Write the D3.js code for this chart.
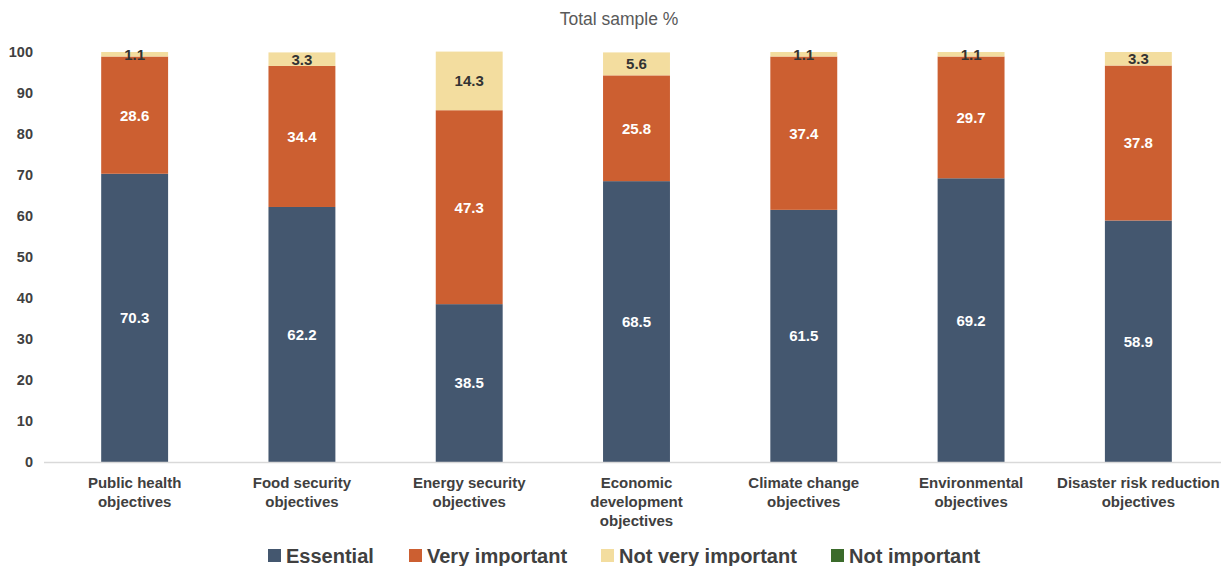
<!DOCTYPE html>
<html>
<head>
<meta charset="utf-8">
<script src="https://cdn.jsdelivr.net/npm/d3@7"></script>
<style>
  html, body { margin: 0; padding: 0; background: #fff; }
  svg { display: block; font-family: "Liberation Sans", Arial, sans-serif; }
</style>
</head>
<body>
<svg id="chart" width="1229" height="566"></svg>
<script>
// Survey responses, share of total sample (%)
const categories = [
  ["Public health", "objectives"],
  ["Food security", "objectives"],
  ["Energy security", "objectives"],
  ["Economic", "development", "objectives"],
  ["Climate change", "objectives"],
  ["Environmental", "objectives"],
  ["Disaster risk reduction", "objectives"]
];
const seriesNames = ["Essential", "Very important", "Not very important", "Not important"];
const essential        = [70.3, 62.2, 38.5, 68.5, 61.5, 69.2, 58.9];
const veryImportant    = [28.6, 34.4, 47.3, 25.8, 37.4, 29.7, 37.8];
const notVeryImportant = [1.1, 3.3, 14.3, 5.6, 1.1, 1.1, 3.3];
const notImportant     = [0, 0, 0, 0, 0, 0, 0];
const yTicks = [0, 10, 20, 30, 40, 50, 60, 70, 80, 90, 100];
const colors = ["#44576f", "#cc5f31", "#f3dd9f", "#3b6b2b"];
const labelColors = ["#ffffff", "#ffffff", "#333333", "#ffffff"];

const seriesValues = [essential, veryImportant, notVeryImportant, notImportant];
const rows = categories.map((c, i) => {
  const r = { key: i };
  seriesNames.forEach((s, j) => { r[s] = seriesValues[j][i]; });
  return r;
});
const stacked = d3.stack().keys(seriesNames)(rows);

const svg = d3.select("#chart");
const margin = { left: 51, right: 7, top: 52, bottom: 104 };
const W = 1229, H = 566;

const x = d3.scaleBand()
  .domain(rows.map(r => r.key))
  .range([margin.left, W - margin.right])
  .paddingInner(0.6)
  .paddingOuter(0.3);

const y = d3.scaleLinear().domain([0, 100]).range([H - margin.bottom, margin.top]);

// Title
svg.append("text")
  .attr("x", 619).attr("y", 25)
  .attr("text-anchor", "middle")
  .attr("font-size", 17.5)
  .attr("fill", "#595959")
  .text("Total sample %");

// Y axis labels (no line)
const yAxis = svg.append("g")
  .attr("transform", `translate(${33},0)`)
  .call(d3.axisLeft(y).tickValues(yTicks).tickSize(0).tickPadding(0));
yAxis.select(".domain").remove();
yAxis.selectAll("text")
  .attr("font-size", 14.5).attr("font-weight", "bold").attr("fill", "#404040")
  .attr("font-family", "Liberation Sans, Arial, sans-serif");

// Bars
const layers = svg.append("g").selectAll("g").data(stacked).join("g")
  .attr("fill", (d, i) => colors[i]);
layers.selectAll("rect").data(d => d).join("rect")
  .attr("x", d => x(d.data.key))
  .attr("width", x.bandwidth())
  .attr("y", d => y(d[1]))
  .attr("height", d => y(d[0]) - y(d[1]));

// Baseline
svg.append("line")
  .attr("x1", 44).attr("x2", 1221)
  .attr("y1", y(0) + 0.5).attr("y2", y(0) + 0.5)
  .attr("stroke", "#d9d9d9").attr("stroke-width", 1.5);

// Segment value labels
stacked.forEach((layer, i) => {
  svg.append("g").selectAll("text")
    .data(layer.filter(d => d[1] - d[0] > 0))
    .join("text")
    .attr("x", d => x(d.data.key) + x.bandwidth() / 2)
    .attr("y", d => y((d[0] + d[1]) / 2))
    .attr("dy", "0.36em")
    .attr("text-anchor", "middle")
    .attr("font-size", 15)
    .attr("font-weight", "bold")
    .attr("fill", labelColors[i])
    .text(d => d3.format(".1f")(d[1] - d[0]));
});

// Category labels
const xAxis = svg.append("g");
categories.forEach((lines, i) => {
  const t = xAxis.append("text")
    .attr("x", x(i) + x.bandwidth() / 2)
    .attr("y", 488)
    .attr("text-anchor", "middle")
    .attr("font-size", 15)
    .attr("font-weight", "bold")
    .attr("fill", "#404040");
  lines.forEach((ln, k) => {
    t.append("tspan").attr("x", x(i) + x.bandwidth() / 2).attr("dy", k === 0 ? 0 : 19).text(ln);
  });
});

// Legend
const legendItems = [
  { name: seriesNames[0], x: 268 },
  { name: seriesNames[1], x: 409 },
  { name: seriesNames[2], x: 601 },
  { name: seriesNames[3], x: 831 }
];
const lg = svg.append("g");
legendItems.forEach((it, i) => {
  lg.append("rect")
    .attr("x", it.x).attr("y", 549)
    .attr("width", 13).attr("height", 13)
    .attr("fill", colors[i]);
  lg.append("text")
    .attr("x", it.x + 18).attr("y", 563)
    .attr("font-size", 20).attr("font-weight", "bold")
    .attr("fill", "#404040")
    .text(it.name);
});
</script>
</body>
</html>
